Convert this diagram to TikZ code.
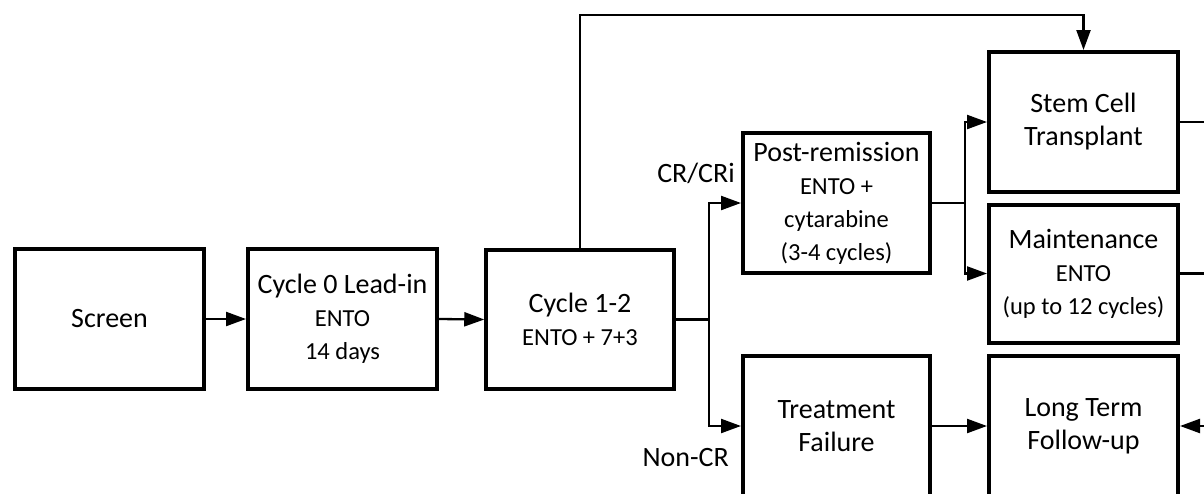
\documentclass[tikz,border=0pt]{standalone}
\usepackage{fontspec}
\setmainfont{Carlito}
\usetikzlibrary{arrows.meta}
\newcommand{\bigf}{\fontsize{28}{33}\selectfont}
\newcommand{\smf}{\fontsize{24.5}{30}\selectfont}
\tikzset{
  box/.style={draw=black, line width=4pt, fill=white, inner sep=0pt, align=center, font=\bigf},
  conn/.style={line width=2.3pt},
  arr/.style={conn, -{Triangle[length=20pt,width=14pt]}},
  lbl/.style={font=\bigf, inner sep=0pt}
}
\begin{document}
\begin{tikzpicture}[x=1pt,y=-1pt]
\useasboundingbox (0,0) rectangle (1204,493);
\clip (0,0) rectangle (1204,493);
\fill[white] (0,0) rectangle (1204,493);
\node[box, minimum width=189pt, minimum height=140pt] (screen) at (109.5,319) {Screen};
\node[box, minimum width=189pt, minimum height=140pt] (cyc0) at (342.5,319) {Cycle 0 Lead-in\\ {\smf ENTO}\\ {\smf 14 days}};
\node[box, line width=3.5pt, minimum width=188pt, minimum height=139pt] (cyc12) at (580,319.5) {Cycle 1-2\\ {\smf ENTO + 7+3}};
\node[box, minimum width=187pt, minimum height=140pt] (post) at (836.5,203) {Post-remission\\ {\smf ENTO +}\\ {\smf cytarabine}\\ {\smf (3-4 cycles)}};
\node[box, minimum width=187pt, minimum height=140pt] (fail) at (836.5,426) {Treatment\\ Failure};
\node[box, minimum width=189pt, minimum height=140pt] (stem) at (1083.5,122) {Stem Cell\\ Transplant};
\node[box, minimum width=189pt, minimum height=138pt] (maint) at (1083.5,273.5) {Maintenance\\ {\smf ENTO}\\ {\smf (up to 12 cycles)}};
\node[box, minimum width=189pt, minimum height=140pt] (ltfu) at (1083.5,426) {Long Term\\ Follow-up};
\node[lbl, anchor=east] (crl) at (735,173) {CR/CRi};
\node[lbl, anchor=east] (ncl) at (729,458) {Non-CR};
\coordinate (top) at (0,15);
\coordinate (sp1) at (709,319.5);
\coordinate (sp2) at (965,203);
\coordinate (rr) at (1230,0);
\draw[arr] (screen.east) -- (cyc0.west);
\draw[arr] (cyc0.east) -- (cyc12.west);
\draw[arr] (cyc12.north) |- (stem.north |- top) -- (stem.north);
\draw[conn] (cyc12.east) -- (sp1);
\draw[arr] (sp1) |- (post.west);
\draw[arr] (sp1) |- (fail.west);
\draw[conn] (post.east) -- (sp2);
\draw[arr] (sp2) |- (stem.west);
\draw[arr] (sp2) |- (maint.west);
\draw[arr] (fail.east) -- (ltfu.west);
\draw[arr] (stem.east) -| (rr |- ltfu.east) -- (ltfu.east);
\draw[conn] (maint.east) -- (maint.east -| rr);
\end{tikzpicture}
\end{document}
